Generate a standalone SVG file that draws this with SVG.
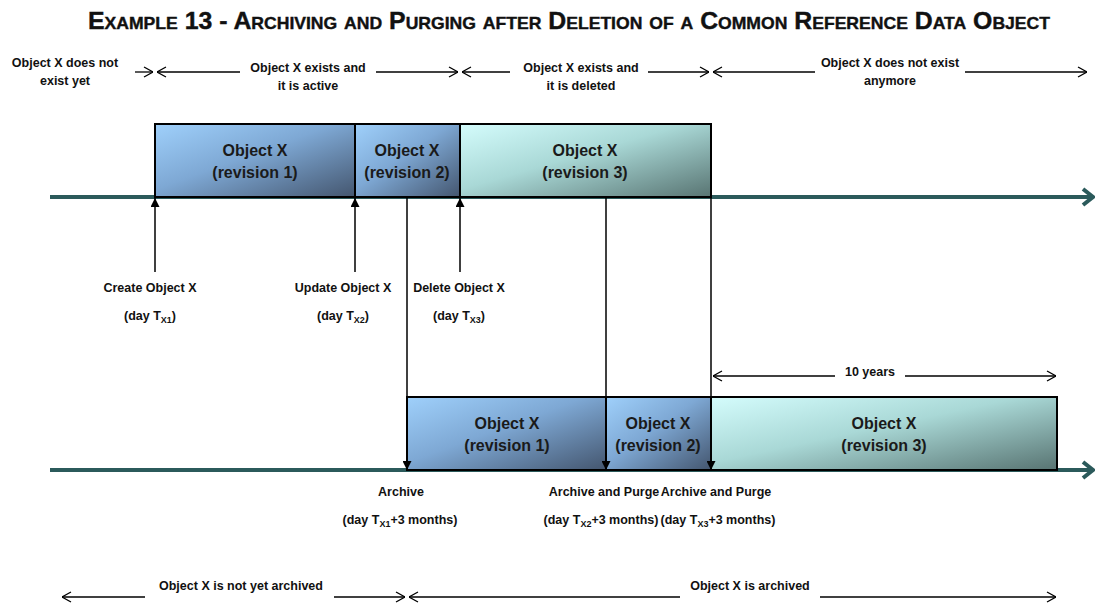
<svg xmlns="http://www.w3.org/2000/svg" width="1097" height="603" viewBox="0 0 1097 603">
<style>
.t{font-family:"Liberation Sans",Arial,sans-serif;font-weight:bold;font-size:12.5px;fill:#111;text-anchor:middle}
.b{font-family:"Liberation Sans",Arial,sans-serif;font-weight:bold;font-size:16px;fill:#1a1a1a;text-anchor:middle}
.rng{stroke:#000;stroke-width:1.3;fill:none}
.ev{stroke:#000;stroke-width:1.5;fill:none}
.tl{stroke:#2b5a5b;stroke-width:4;fill:none}
.box{stroke:#000;stroke-width:2}
.sub{font-size:9px}
</style>
<defs>
<linearGradient id="gb" x1="0" y1="0" x2="1" y2="1">
<stop offset="0" stop-color="#9fd0fb"/><stop offset="0.45" stop-color="#7ea8d4"/><stop offset="1" stop-color="#44566f"/>
</linearGradient>
<linearGradient id="gt" x1="0" y1="0" x2="1" y2="1">
<stop offset="0" stop-color="#d4fcfc"/><stop offset="0.45" stop-color="#a9d8d6"/><stop offset="1" stop-color="#587472"/>
</linearGradient>
<marker id="oa" viewBox="0 0 10 12" refX="10" refY="6" markerWidth="10" markerHeight="12" markerUnits="userSpaceOnUse" orient="auto-start-reverse">
<path d="M1,1 L10,6 L1,11" fill="none" stroke="#000" stroke-width="1.3"/>
</marker>
<marker id="fa" viewBox="0 0 10 10" refX="10" refY="5" markerWidth="10" markerHeight="9" markerUnits="userSpaceOnUse" orient="auto">
<path d="M0,0 L10,5 L0,10 Z" fill="#000"/>
</marker>
<marker id="ta" viewBox="0 0 14 20" refX="12" refY="10" markerWidth="14" markerHeight="20" markerUnits="userSpaceOnUse" orient="auto">
<path d="M2,2 L12,10 L2,18" fill="none" stroke="#2b5a5b" stroke-width="4"/>
</marker>
</defs>
<rect width="1097" height="603" fill="#fff"/>
<text x="569" y="29" font-family="'Liberation Sans',Arial,sans-serif" font-weight="bold" font-size="24" font-variant="small-caps" text-anchor="middle" textLength="962" lengthAdjust="spacingAndGlyphs" fill="#111" stroke="#111" stroke-width="0.4">Example 13 - Archiving and Purging after Deletion of a Common Reference Data Object</text>

<g id="timelines">
<line class="tl" x1="50" y1="197" x2="1093" y2="197" marker-end="url(#ta)"/>
<line class="tl" x1="50" y1="470" x2="1093" y2="470" marker-end="url(#ta)"/>
</g>

<g id="top-rev1"><rect class="box" x="155" y="124" width="200" height="73" fill="url(#gb)"/><text class="b" x="255" y="156">Object X</text><text class="b" x="255" y="178">(revision 1)</text></g>
<g id="top-rev2"><rect class="box" x="355" y="124" width="105" height="73" fill="url(#gb)"/><text class="b" x="407" y="156">Object X</text><text class="b" x="407" y="178">(revision 2)</text></g>
<g id="top-rev3"><rect class="box" x="460" y="124" width="251" height="73" fill="url(#gt)"/><text class="b" x="585" y="156">Object X</text><text class="b" x="585" y="178">(revision 3)</text></g>

<g id="bot-rev1"><rect class="box" x="407" y="397" width="199" height="73" fill="url(#gb)"/><text class="b" x="507" y="429">Object X</text><text class="b" x="507" y="451">(revision 1)</text></g>
<g id="bot-rev2"><rect class="box" x="606" y="397" width="105" height="73" fill="url(#gb)"/><text class="b" x="658" y="429">Object X</text><text class="b" x="658" y="451">(revision 2)</text></g>
<g id="bot-rev3"><rect class="box" x="711" y="397" width="346" height="73" fill="url(#gt)"/><text class="b" x="884" y="429">Object X</text><text class="b" x="884" y="451">(revision 3)</text></g>

<g id="connectors">
<line class="ev" x1="155" y1="272" x2="155" y2="198" marker-end="url(#fa)"/>
<line class="ev" x1="355" y1="272" x2="355" y2="198" marker-end="url(#fa)"/>
<line class="ev" x1="460" y1="272" x2="460" y2="198" marker-end="url(#fa)"/>
<line class="ev" x1="407" y1="198" x2="407" y2="470" marker-end="url(#fa)"/>
<line class="ev" x1="606" y1="198" x2="606" y2="470" marker-end="url(#fa)"/>
<line class="ev" x1="711" y1="198" x2="711" y2="470" marker-end="url(#fa)"/>

<line class="rng" x1="135" y1="72" x2="153" y2="72" marker-end="url(#oa)"/>
<line class="rng" x1="157" y1="72" x2="240" y2="72" marker-start="url(#oa)"/>
<line class="rng" x1="376" y1="72" x2="458" y2="72" marker-end="url(#oa)"/>
<line class="rng" x1="462" y1="72" x2="510" y2="72" marker-start="url(#oa)"/>
<line class="rng" x1="648" y1="72" x2="709" y2="72" marker-end="url(#oa)"/>
<line class="rng" x1="713" y1="72" x2="815" y2="72" marker-start="url(#oa)"/>
<line class="rng" x1="965" y1="72" x2="1087" y2="72" marker-end="url(#oa)"/>

<line class="rng" x1="713" y1="376" x2="835" y2="376" marker-start="url(#oa)"/>
<line class="rng" x1="905" y1="376" x2="1056" y2="376" marker-end="url(#oa)"/>

<line class="rng" x1="62" y1="597" x2="145" y2="597" marker-start="url(#oa)"/>
<line class="rng" x1="334" y1="597" x2="405" y2="597" marker-end="url(#oa)"/>
<line class="rng" x1="409" y1="597" x2="680" y2="597" marker-start="url(#oa)"/>
<line class="rng" x1="820" y1="597" x2="1056" y2="597" marker-end="url(#oa)"/>
</g>

<g id="labels">
<text class="t" x="65" y="67">Object X does not</text>
<text class="t" x="65" y="85">exist yet</text>
<text class="t" x="308" y="72">Object X exists and</text>
<text class="t" x="308" y="90">it is active</text>
<text class="t" x="581" y="72">Object X exists and</text>
<text class="t" x="581" y="90">it is deleted</text>
<text class="t" x="890" y="67">Object X does not exist</text>
<text class="t" x="890" y="85">anymore</text>

<text class="t" x="150" y="292">Create Object X</text>
<text class="t" x="150" y="320">(day T<tspan class="sub" dy="3">X1</tspan><tspan dy="-3">)</tspan></text>
<text class="t" x="343" y="292">Update Object X</text>
<text class="t" x="343" y="320">(day T<tspan class="sub" dy="3">X2</tspan><tspan dy="-3">)</tspan></text>
<text class="t" x="459" y="292">Delete Object X</text>
<text class="t" x="459" y="320">(day T<tspan class="sub" dy="3">X3</tspan><tspan dy="-3">)</tspan></text>

<text class="t" x="870" y="376">10 years</text>

<text class="t" x="401" y="496">Archive</text>
<text class="t" x="400" y="524">(day T<tspan class="sub" dy="3">X1</tspan><tspan dy="-3">+3 months)</tspan></text>
<text class="t" x="604" y="496">Archive and Purge</text>
<text class="t" x="716" y="496">Archive and Purge</text>
<text class="t" x="601" y="524">(day T<tspan class="sub" dy="3">X2</tspan><tspan dy="-3">+3 months)</tspan></text>
<text class="t" x="718" y="524">(day T<tspan class="sub" dy="3">X3</tspan><tspan dy="-3">+3 months)</tspan></text>

<text class="t" x="241" y="590">Object X is not yet archived</text>
<text class="t" x="750" y="590">Object X is archived</text>
</g>
</svg>
